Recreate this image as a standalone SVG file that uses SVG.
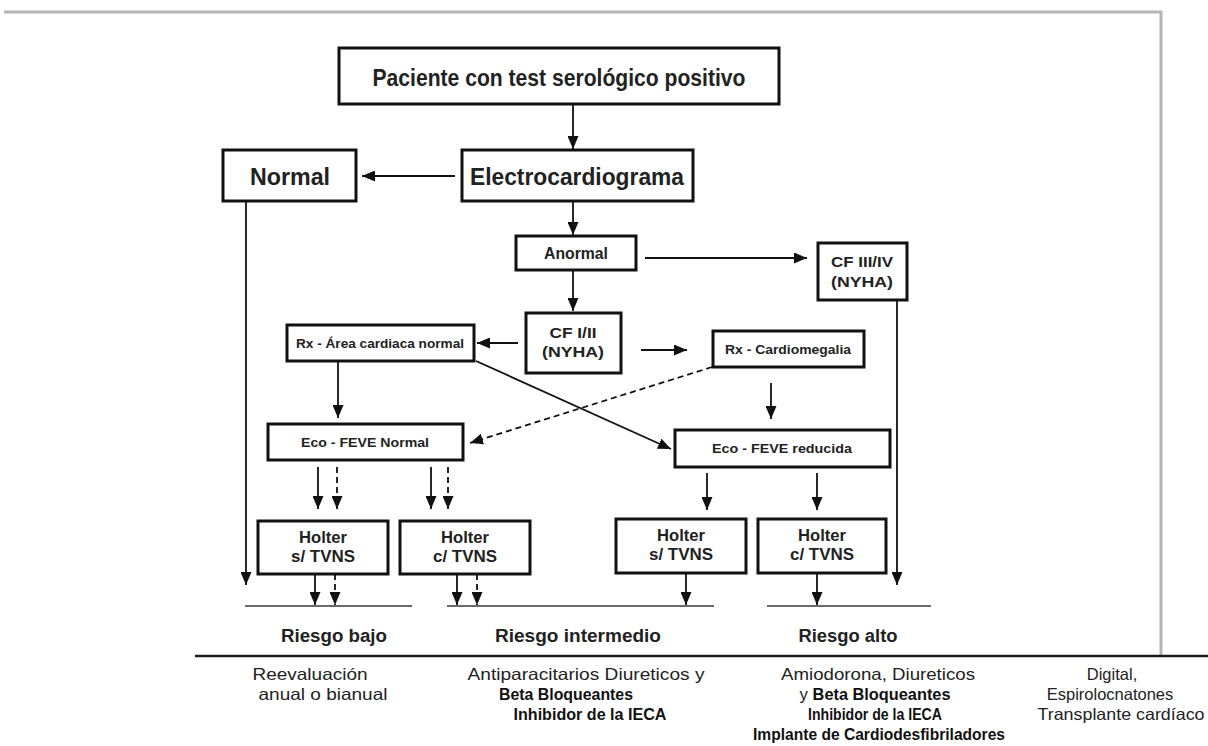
<svg xmlns="http://www.w3.org/2000/svg" width="1208" height="746" viewBox="0 0 1208 746">
  <style>
    .box { fill: #ffffff; stroke: #111111; stroke-width: 3; }
    .lbl { font-family: "Liberation Sans", Arial, sans-serif; font-weight: bold; fill: #222222; text-anchor: middle; }
    .note { font-family: "Liberation Sans", Arial, sans-serif; fill: #222222; text-anchor: middle; font-size: 16.5px; }
    .noteb { font-family: "Liberation Sans", Arial, sans-serif; font-weight: bold; fill: #111111; text-anchor: middle; font-size: 16px; }
    .edge { fill: none; stroke: #111111; stroke-width: 1.8; }
    .dash { stroke-dasharray: 6 4; }
    .rule { stroke: #6a6a6a; stroke-width: 2; }
  </style>
  <defs>
    <marker id="arrow" markerUnits="userSpaceOnUse" markerWidth="13" markerHeight="11" refX="13" refY="5.5" orient="auto">
      <path d="M0,0 L13,5.5 L0,11 z" fill="#111111"/>
    </marker>
  </defs>

  <rect width="1208" height="746" fill="#ffffff"/>

  <!-- outer frame -->
  <g id="frame">
    <polyline points="4,12 1161,12 1161,655" fill="none" stroke="#b4b4b4" stroke-width="3"/>
    <line x1="195" y1="656" x2="1208" y2="656" stroke="#1a1a1a" stroke-width="2.5"/>
  </g>

  <!-- connectors -->
  <g id="connectors">
    <line class="edge" x1="573" y1="104" x2="573" y2="149" marker-end="url(#arrow)"/>
    <line class="edge" x1="455" y1="176" x2="362" y2="176" marker-end="url(#arrow)"/>
    <line class="edge" x1="246" y1="201" x2="246" y2="585" marker-end="url(#arrow)"/>
    <line class="edge" x1="573" y1="201" x2="573" y2="235" marker-end="url(#arrow)"/>
    <line class="edge" x1="645" y1="258" x2="807" y2="258" marker-end="url(#arrow)"/>
    <line class="edge" x1="897" y1="300" x2="897" y2="585" marker-end="url(#arrow)"/>
    <line class="edge" x1="573" y1="270" x2="573" y2="311" marker-end="url(#arrow)"/>
    <line class="edge" x1="518" y1="343" x2="477" y2="343" marker-end="url(#arrow)"/>
    <line class="edge" x1="641" y1="350" x2="687" y2="350" marker-end="url(#arrow)"/>
    <line class="edge" x1="338" y1="361" x2="338" y2="418" marker-end="url(#arrow)"/>
    <line class="edge dash" x1="712" y1="367" x2="470" y2="443" marker-end="url(#arrow)"/>
    <line class="edge" x1="476" y1="361" x2="671" y2="449" marker-end="url(#arrow)"/>
    <line class="edge" x1="771" y1="383" x2="771" y2="419" marker-end="url(#arrow)"/>
    <line class="edge" x1="707" y1="473" x2="707" y2="510" marker-end="url(#arrow)"/>
    <line class="edge" x1="817" y1="473" x2="817" y2="510" marker-end="url(#arrow)"/>
    <line class="edge" x1="686" y1="573" x2="686" y2="605" marker-end="url(#arrow)"/>
    <line class="edge" x1="817" y1="573" x2="817" y2="605" marker-end="url(#arrow)"/>
    <line class="edge" x1="318" y1="467" x2="318" y2="509" marker-end="url(#arrow)"/>
    <line class="edge dash" x1="337" y1="467" x2="337" y2="509" marker-end="url(#arrow)"/>
    <line class="edge" x1="431" y1="467" x2="431" y2="509" marker-end="url(#arrow)"/>
    <line class="edge dash" x1="448" y1="467" x2="448" y2="509" marker-end="url(#arrow)"/>
    <line class="edge" x1="315" y1="574" x2="315" y2="605" marker-end="url(#arrow)"/>
    <line class="edge dash" x1="335" y1="574" x2="335" y2="605" marker-end="url(#arrow)"/>
    <line class="edge" x1="457" y1="574" x2="457" y2="605" marker-end="url(#arrow)"/>
    <line class="edge dash" x1="477" y1="574" x2="477" y2="605" marker-end="url(#arrow)"/>
  </g>

  <!-- risk rules and labels -->
  <g id="risk-levels">
    <line class="rule" x1="245" y1="606" x2="412" y2="606"/>
    <line class="rule" x1="447" y1="606" x2="714" y2="606"/>
    <line class="rule" x1="767" y1="606" x2="931" y2="606"/>
    <text class="lbl" x="334" y="642" font-size="17.5" textLength="106" lengthAdjust="spacingAndGlyphs">Riesgo bajo</text>
    <text class="lbl" x="578" y="642" font-size="17.5" textLength="166" lengthAdjust="spacingAndGlyphs">Riesgo intermedio</text>
    <text class="lbl" x="848" y="642" font-size="17.5" textLength="99" lengthAdjust="spacingAndGlyphs">Riesgo alto</text>
  </g>

  <g id="paciente">
    <rect class="box" x="339" y="48" width="440" height="56"/>
    <text class="lbl" x="559" y="86" font-size="23" textLength="373" lengthAdjust="spacingAndGlyphs">Paciente con test serológico positivo</text>
  </g>
  <g id="electro">
    <rect class="box" x="462" y="150" width="231" height="51"/>
    <text class="lbl" x="577" y="185" font-size="23" textLength="214" lengthAdjust="spacingAndGlyphs">Electrocardiograma</text>
  </g>
  <g id="normal">
    <rect class="box" x="223" y="150" width="133" height="51"/>
    <text class="lbl" x="290" y="185" font-size="23" textLength="80" lengthAdjust="spacingAndGlyphs">Normal</text>
  </g>
  <g id="anormal">
    <rect class="box" x="516" y="236" width="120" height="34"/>
    <text class="lbl" x="576" y="259" font-size="17" textLength="64" lengthAdjust="spacingAndGlyphs">Anormal</text>
  </g>
  <g id="cf-iii-iv">
    <rect class="box" x="818" y="243" width="89" height="57"/>
    <text class="lbl" x="862" y="267" font-size="15.5" textLength="62" lengthAdjust="spacingAndGlyphs">CF III/IV</text>
    <text class="lbl" x="862" y="287" font-size="15.5" textLength="62" lengthAdjust="spacingAndGlyphs">(NYHA)</text>
  </g>
  <g id="cf-i-ii">
    <rect class="box" x="526" y="313" width="95" height="60"/>
    <text class="lbl" x="573" y="338" font-size="15.5" textLength="47" lengthAdjust="spacingAndGlyphs">CF I/II</text>
    <text class="lbl" x="573" y="357" font-size="15.5" textLength="62" lengthAdjust="spacingAndGlyphs">(NYHA)</text>
  </g>
  <g id="rx-normal">
    <rect class="box" x="287" y="325" width="187" height="36"/>
    <text class="lbl" x="380" y="348" font-size="13.5" textLength="168" lengthAdjust="spacingAndGlyphs">Rx - Área cardiaca normal</text>
  </g>
  <g id="rx-cardiomegalia">
    <rect class="box" x="713" y="331" width="151" height="36"/>
    <text class="lbl" x="788" y="354" font-size="13.5" textLength="126" lengthAdjust="spacingAndGlyphs">Rx - Cardiomegalia</text>
  </g>
  <g id="eco-normal">
    <rect class="box" x="268" y="424" width="195" height="36"/>
    <text class="lbl" x="365" y="447" font-size="13.5" textLength="128" lengthAdjust="spacingAndGlyphs">Eco - FEVE Normal</text>
  </g>
  <g id="eco-reducida">
    <rect class="box" x="675" y="430" width="215" height="37"/>
    <text class="lbl" x="782" y="453" font-size="13.5" textLength="140" lengthAdjust="spacingAndGlyphs">Eco - FEVE reducida</text>
  </g>
  <g id="holter-s-bajo">
    <rect class="box" x="258" y="521" width="130" height="53"/>
    <text class="lbl" x="323" y="543" font-size="16" textLength="48" lengthAdjust="spacingAndGlyphs">Holter</text>
    <text class="lbl" x="323" y="562" font-size="16" textLength="64" lengthAdjust="spacingAndGlyphs">s/ TVNS</text>
  </g>
  <g id="holter-c-intermedio">
    <rect class="box" x="400" y="521" width="130" height="53"/>
    <text class="lbl" x="465" y="543" font-size="16" textLength="48" lengthAdjust="spacingAndGlyphs">Holter</text>
    <text class="lbl" x="465" y="562" font-size="16" textLength="64" lengthAdjust="spacingAndGlyphs">c/ TVNS</text>
  </g>
  <g id="holter-s-intermedio">
    <rect class="box" x="616" y="519" width="130" height="54"/>
    <text class="lbl" x="681" y="541" font-size="16" textLength="48" lengthAdjust="spacingAndGlyphs">Holter</text>
    <text class="lbl" x="681" y="560" font-size="16" textLength="64" lengthAdjust="spacingAndGlyphs">s/ TVNS</text>
  </g>
  <g id="holter-c-alto">
    <rect class="box" x="758" y="519" width="128" height="54"/>
    <text class="lbl" x="822" y="541" font-size="16" textLength="48" lengthAdjust="spacingAndGlyphs">Holter</text>
    <text class="lbl" x="822" y="560" font-size="16" textLength="64" lengthAdjust="spacingAndGlyphs">c/ TVNS</text>
  </g>

  <!-- treatment notes below the rule -->
  <g id="tratamientos">
    <text class="note" x="310" y="680" textLength="115" lengthAdjust="spacingAndGlyphs">Reevaluación</text>
    <text class="note" x="323" y="700" textLength="129" lengthAdjust="spacingAndGlyphs">anual o bianual</text>

    <text class="note" x="586" y="680" textLength="237" lengthAdjust="spacingAndGlyphs">Antiparacitarios Diureticos y</text>
    <text class="noteb" x="566" y="700" textLength="134" lengthAdjust="spacingAndGlyphs">Beta Bloqueantes</text>
    <text class="noteb" x="590" y="720" textLength="153" lengthAdjust="spacingAndGlyphs">Inhibidor de la IECA</text>

    <text class="note" x="878" y="680" textLength="194" lengthAdjust="spacingAndGlyphs">Amiodorona, Diureticos</text>
    <text x="875" y="700" font-family="Liberation Sans, Arial, sans-serif" font-size="16.5" fill="#222222" text-anchor="middle" textLength="151" lengthAdjust="spacingAndGlyphs">y <tspan font-weight="bold" font-size="16" fill="#111111">Beta Bloqueantes</tspan></text>
    <text class="noteb" x="875" y="720" textLength="134" lengthAdjust="spacingAndGlyphs">Inhibidor de la IECA</text>
    <text class="noteb" x="879" y="740" textLength="252" lengthAdjust="spacingAndGlyphs">Implante de Cardiodesfibriladores</text>

    <text class="note" x="1112" y="680">Digital,</text>
    <text class="note" x="1110" y="700">Espirolocnatones</text>
    <text class="note" x="1121" y="720" textLength="167" lengthAdjust="spacingAndGlyphs">Transplante cardíaco</text>
  </g>
</svg>
